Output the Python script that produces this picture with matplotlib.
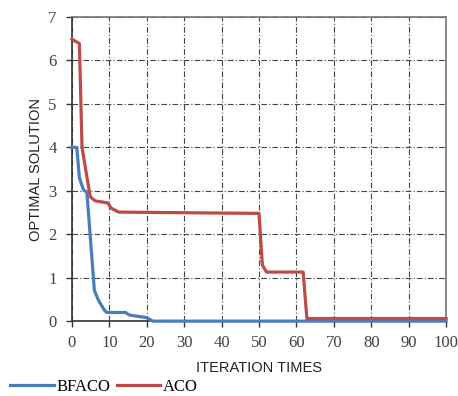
import numpy as np
import matplotlib.pyplot as plt
from matplotlib.lines import Line2D

iter_bfaco = [0, 1.3, 2, 3.1, 4, 6, 7.1, 8.7, 9.3, 14.3, 15.4, 20, 21.6, 100]
val_bfaco = [4.0, 4.0, 3.3, 3.02, 2.97, 0.71, 0.48, 0.25, 0.2, 0.2, 0.14, 0.08, 0.0, 0.0]

iter_aco = [0, 2, 2.7, 4.9, 6.2, 9.6, 10.5, 12.5, 50, 50.9, 52, 61.8, 62.8, 100]
val_aco = [6.49, 6.39, 4.0, 2.86, 2.77, 2.72, 2.6, 2.51, 2.48, 1.29, 1.13, 1.13, 0.06, 0.06]

blue = "#4a7ebb"
red = "#be4b48"

fig = plt.figure(figsize=(4.58, 3.96), dpi=100)
ax = fig.add_axes([0.157, 0.189, 0.817, 0.768])

ax.plot(iter_bfaco, val_bfaco, color=blue, lw=2.3, clip_on=False, zorder=3)
ax.plot(iter_aco, val_aco, color=red, lw=2.3, clip_on=False, zorder=4)

ax.set_xlim(0, 100)
ax.set_ylim(0, 7)
ax.set_xticks(np.arange(0, 101, 10))
ax.set_yticks(np.arange(0, 8, 1))
ax.grid(True, color="#444444", lw=0.8, dashes=(5, 2, 1, 2))

for s in ["left", "bottom"]:
    ax.spines[s].set_color("#333333")
    ax.spines[s].set_linewidth(1.2)
for s in ["top", "right"]:
    ax.spines[s].set_color("#777777")
    ax.spines[s].set_linewidth(1.2)

ax.tick_params(direction="out", length=4, width=1, color="#333333")
ax.tick_params(axis="x", pad=6)
ax.tick_params(axis="y", pad=7)
for lab in ax.get_xticklabels() + ax.get_yticklabels():
    lab.set_fontfamily("Liberation Serif")
    lab.set_fontsize(12)
    lab.set_color("#404040")

ax.set_xlabel("ITERATION TIMES", family="Liberation Sans", fontsize=10.5, color="#222222", labelpad=7)
ax.set_ylabel("OPTIMAL SOLUTION", family="Liberation Sans", fontsize=10.5, color="#222222", labelpad=4)

handles = [Line2D([], [], color=blue, lw=2.3), Line2D([], [], color=red, lw=2.3)]
fig.legend(handles, ["BFACO", "ACO"], loc="center left", bbox_to_anchor=(-0.01, 0.022),
           ncol=2, frameon=False, handlelength=2.6, handletextpad=0.15, columnspacing=0.4,
           prop={"family": "Liberation Serif", "size": 12})

fig.savefig("out.png", dpi=100)
